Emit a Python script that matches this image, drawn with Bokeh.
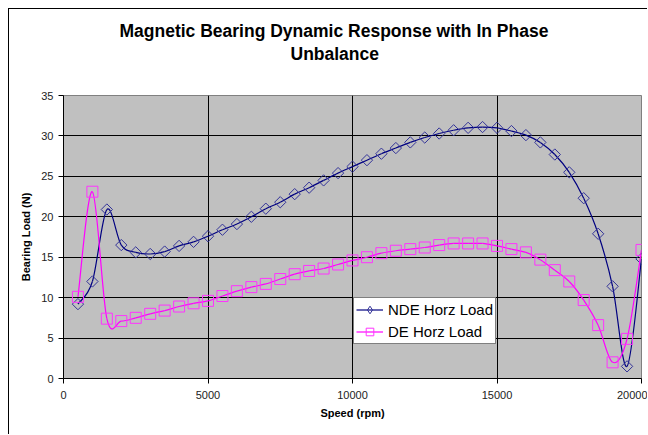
import numpy as np
from bokeh.plotting import figure
from bokeh.models import (Title, Legend, LegendItem, ColumnDataSource,
                          FixedTicker, Range1d)
from bokeh.embed import file_html
from bokeh.resources import INLINE

# ---------------- data ----------------
speed = [500, 1000, 1500, 2000, 2500, 3000, 3500, 4000, 4500, 5000,
         5500, 6000, 6500, 7000, 7500, 8000, 8500, 9000, 9500, 10000,
         10500, 11000, 11500, 12000, 12500, 13000, 13500, 14000, 14500, 15000,
         15500, 16000, 16500, 17000, 17500, 18000, 18500, 19000, 19500, 20000]

nde_load = [9.2, 12.0, 20.9, 16.5, 15.6, 15.4, 15.7, 16.4, 16.9, 17.6,
            18.4, 19.1, 20.0, 21.0, 21.8, 22.8, 23.6, 24.5, 25.4, 26.2,
            27.0, 27.8, 28.5, 29.2, 29.8, 30.3, 30.7, 31.0, 31.1, 31.0,
            30.6, 30.1, 29.2, 27.7, 25.5, 22.3, 17.9, 11.4, 1.5, 14.8]

de_load = [10.1, 23.1, 7.4, 7.1, 7.5, 8.0, 8.4, 8.9, 9.3, 9.6,
           10.2, 10.8, 11.3, 11.7, 12.3, 12.9, 13.3, 13.6, 14.1, 14.6,
           15.0, 15.5, 15.8, 16.0, 16.2, 16.5, 16.7, 16.7, 16.7, 16.4,
           16.0, 15.6, 14.7, 13.4, 12.0, 9.7, 6.6, 2.0, 4.9, 15.9]

series_names = ["NDE Horz Load", "DE Horz Load"]
x_ticks = [0, 5000, 10000, 15000, 20000]
y_ticks = [0, 5, 10, 15, 20, 25, 30, 35]
title_lines = ["Magnetic Bearing Dynamic Response with In Phase", "Unbalance"]
x_label = "Speed (rpm)"
y_label = "Bearing Load (N)"

FONT = "Liberation Sans"
NAVY = "#000080"
NAVY_MK = "#333399"
MAGENTA = "#ff00ff"
MAGENTA_MK = "#ff33ff"


def smooth_source(xs, ys):
    """Bezier control points (Catmull-Rom style) for a smoothed line through the data."""
    x = np.asarray(xs, float)
    y = np.asarray(ys, float)
    xp = np.concatenate([[x[0]], x, [x[-1]]])
    yp = np.concatenate([[y[0]], y, [y[-1]]])
    n = len(x)
    t = 1.0 / 6.0
    cx0 = x[:-1] + (x[1:] - xp[:n - 1]) * t
    cy0 = y[:-1] + (y[1:] - yp[:n - 1]) * t
    cx1 = x[1:] - (xp[3:] - x[:-1]) * t
    cy1 = y[1:] - (yp[3:] - y[:-1]) * t
    return ColumnDataSource(dict(x0=x[:-1], y0=y[:-1], x1=x[1:], y1=y[1:],
                                 cx0=cx0, cy0=cy0, cx1=cx1, cy1=cy1))


p = figure(width=639, height=426, output_backend="svg", toolbar_location=None,
           x_range=Range1d(0, 20000), y_range=Range1d(0, 35),
           min_border_left=54, min_border_right=7, min_border_top=86,
           min_border_bottom=57,
           background_fill_color="#c0c0c0", border_fill_color="white",
           outline_line_color="#808080",
           styles={"margin-left": "8px", "margin-top": "8px",
                   "border-left": "1px solid #000", "border-top": "1px solid #000"})
p.title = None

# two-line title (first added sits closest to the plot area)
spacer = Title(text=" ", text_font_size="1px", standoff=29)
t2 = Title(text=title_lines[1], align="left", offset=227,
           text_font=FONT, text_font_size="17.5px", text_font_style="bold",
           text_color="black", standoff=0)
t1 = Title(text=title_lines[0], align="left", offset=56,
           text_font=FONT, text_font_size="17.5px", text_font_style="bold",
           text_color="black", standoff=2)
p.add_layout(spacer, "above")
p.add_layout(t2, "above")
p.add_layout(t1, "above")

# axes
p.xaxis.ticker = FixedTicker(ticks=x_ticks)
p.yaxis.ticker = FixedTicker(ticks=y_ticks)
for ax in (p.xaxis[0], p.yaxis[0]):
    ax.axis_line_color = "black"
    ax.major_tick_line_color = "black"
    ax.major_tick_out = 5
    ax.major_tick_in = 0
    ax.minor_tick_line_color = None
    ax.major_label_text_font = FONT
    ax.major_label_text_font_size = "11px"
    ax.major_label_text_color = "#222222"
    ax.axis_label_text_font = FONT
    ax.axis_label_text_font_size = "11px"
    ax.axis_label_text_font_style = "bold"
    ax.axis_label_text_color = "black"
p.xaxis.axis_label = x_label
p.yaxis.axis_label = y_label
p.xaxis.major_label_standoff = 7
p.yaxis.major_label_standoff = 5
p.xaxis.axis_label_standoff = 5
p.yaxis.axis_label_standoff = 6

p.grid.grid_line_color = "black"
p.grid.grid_line_width = 1

# series
src_nde = smooth_source(speed, nde_load)
src_de = smooth_source(speed, de_load)
pts_nde = ColumnDataSource(dict(x=speed, y=nde_load))
pts_de = ColumnDataSource(dict(x=speed, y=de_load))

l_nde = p.bezier(x0="x0", y0="y0", x1="x1", y1="y1", cx0="cx0", cy0="cy0",
                 cx1="cx1", cy1="cy1", source=src_nde,
                 line_color=NAVY, line_width=1.2)
m_nde = p.scatter("x", "y", source=pts_nde, marker="square", angle=np.pi / 4,
                  size=8, fill_color=None, line_color=NAVY_MK, line_width=1)
l_de = p.bezier(x0="x0", y0="y0", x1="x1", y1="y1", cx0="cx0", cy0="cy0",
                cx1="cx1", cy1="cy1", source=src_de,
                line_color=MAGENTA, line_width=1.2)
m_de = p.scatter("x", "y", source=pts_de, marker="square",
                 size=11, fill_color=None, line_color=MAGENTA_MK, line_width=1)

# hidden diamond renderer, used only as the legend swatch for the NDE series
key_nde = p.scatter("x", "y", source=pts_nde, marker="diamond", size=12,
                    fill_color=None, line_color=NAVY_MK, line_width=1,
                    visible=False)

legend = Legend(items=[LegendItem(label=series_names[0], renderers=[l_nde, key_nde]),
                       LegendItem(label=series_names[1], renderers=[l_de, m_de])],
                location=(290, 34), orientation="vertical",
                border_line_color="black", border_line_width=1,
                background_fill_color="white", background_fill_alpha=1,
                inactive_fill_alpha=0,
                label_text_font=FONT, label_text_font_size="15px",
                label_text_color="black",
                glyph_width=27, glyph_height=19, label_height=19,
                spacing=3, padding=2, margin=0, label_standoff=5)
p.add_layout(legend)

open("out.html", "w").write(file_html(p, INLINE))
